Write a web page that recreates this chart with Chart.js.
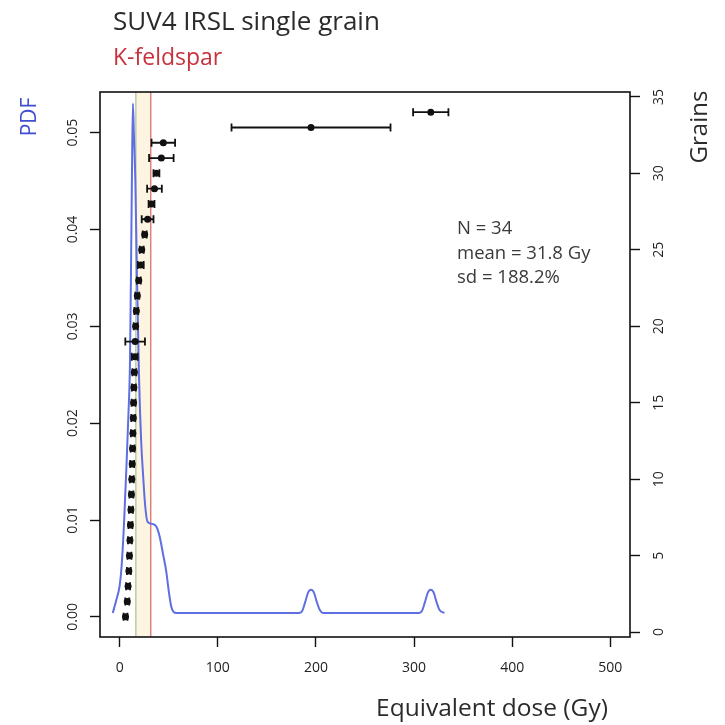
<!DOCTYPE html>
<html>
<head>
<meta charset="utf-8">
<script src="https://cdn.jsdelivr.net/npm/chart.js@4.4.1/dist/chart.umd.min.js"></script>
<style>
  html, body { margin: 0; padding: 0; background: #fff; }
</style>
</head>
<body>
<canvas id="kde" width="725" height="725"></canvas>
<script>
// equivalent dose of each grain (Gy), sorted, with its error
const grainDose  = [6, 7.8, 8.6, 9.4, 10, 10.5, 11, 11.5, 12, 12.4, 12.8, 13.2, 13.5, 13.9, 14.2, 14.5,
                    15, 15.4, 15.8, 16.3, 17, 18, 19.5, 21.5, 22.5, 25.5, 28.5, 32.5, 35.5, 37.5,
                    42.5, 44.5, 195, 317];
const grainError = [2, 2, 2, 2, 2, 2, 2, 2, 2, 2, 2, 2, 2, 2, 2, 2,
                    2, 3, 10, 2, 2, 2, 2, 3, 2, 2, 6, 3, 7.5, 3,
                    12.5, 12, 81, 18];

// density curve
const pdfDose  = [-7, -3.5, 0, 2, 4.5, 7, 9, 10.5, 11.5, 12.5, 13.5, 14.5, 16, 17.7, 19.7, 22, 24, 26,
                  28.5, 33, 37.5, 41, 44, 47.5, 50, 52.5, 55, 58, 100, 150, 183,
                  186, 189, 192, 195, 198, 201, 204, 207, 250, 305,
                  308, 311, 314, 317, 320, 323, 326, 331];
const pdfValue = [0.0004, 0.0017, 0.0032, 0.0052, 0.0097, 0.0157, 0.021, 0.026, 0.035, 0.045, 0.053, 0.05,
                  0.045, 0.035, 0.025, 0.018, 0.0145, 0.0115, 0.0098, 0.0096, 0.0093, 0.0082, 0.0066,
                  0.0047, 0.0027, 0.0011, 0.0005, 0.0004, 0.0004, 0.0004, 0.0004,
                  0.0006, 0.0015, 0.0025, 0.0028, 0.0025, 0.0015, 0.0007, 0.0004, 0.0004, 0.0004,
                  0.0006, 0.0015, 0.0025, 0.0028, 0.0025, 0.0015, 0.0007, 0.0004];

const meanDose = 31.8;
const medianDose = 16.5;
const statLines = ['N = 34', 'mean = 31.8 Gy', 'sd = 188.2%'];

const FONT = '"Open Sans", "DejaVu Sans", sans-serif';

const grainPoints = grainDose.map((d, i) => ({ x: d, y: i + 1 }));
const pdfPoints = pdfDose.map((d, i) => ({ x: d, y: pdfValue[i] }));

function fixSize(size) {
    return function (scale) {
        if (scale.isHorizontal()) {
            scale.height = size;
        } else {
            scale.width = size;
        }
        scale.paddingTop = 0;
        scale.paddingBottom = 0;
        scale.paddingLeft = 0;
        scale.paddingRight = 0;
    };
}

const markers = {
    id: 'markers',
    beforeDatasetsDraw(chart) {
        const { ctx, chartArea: a, scales: { x } } = chart;
        ctx.save();
        // faint band between median and mean
        ctx.fillStyle = 'rgba(250, 225, 170, 0.35)';
        ctx.fillRect(x.getPixelForValue(medianDose), a.top, x.getPixelForValue(meanDose) - x.getPixelForValue(medianDose), a.bottom - a.top);
        ctx.lineWidth = 1.5;
        ctx.strokeStyle = 'rgba(170, 190, 150, 0.8)';
        ctx.beginPath();
        ctx.moveTo(x.getPixelForValue(medianDose), a.top);
        ctx.lineTo(x.getPixelForValue(medianDose), a.bottom);
        ctx.stroke();
        ctx.lineWidth = 1;
        ctx.strokeStyle = '#d04848';
        ctx.beginPath();
        ctx.moveTo(x.getPixelForValue(meanDose), a.top);
        ctx.lineTo(x.getPixelForValue(meanDose), a.bottom);
        ctx.stroke();
        ctx.restore();
    },
    afterDatasetsDraw(chart) {
        const { ctx, scales: { x, y2 } } = chart;
        ctx.save();
        ctx.strokeStyle = '#111';
        ctx.lineWidth = 1.8;
        grainDose.forEach((d, i) => {
            const py = y2.getPixelForValue(i + 1);
            const x1 = x.getPixelForValue(d - grainError[i]);
            const x2 = x.getPixelForValue(d + grainError[i]);
            ctx.beginPath();
            ctx.moveTo(x1, py);
            ctx.lineTo(x2, py);
            ctx.moveTo(x1, py - 4);
            ctx.lineTo(x1, py + 4);
            ctx.moveTo(x2, py - 4);
            ctx.lineTo(x2, py + 4);
            ctx.stroke();
        });
        ctx.restore();
    },
    afterDraw(chart) {
        const { ctx, chartArea: a } = chart;
        ctx.save();
        // plot frame
        ctx.strokeStyle = '#111';
        ctx.lineWidth = 1.6;
        ctx.strokeRect(a.left, a.top, a.right - a.left, a.bottom - a.top);

        ctx.textBaseline = 'middle';
        ctx.textAlign = 'left';
        ctx.fillStyle = '#2b2b2b';
        ctx.font = '26px ' + FONT;
        ctx.fillText('SUV4 IRSL single grain', 113, 23);
        ctx.fillStyle = '#c8323c';
        ctx.font = '23px ' + FONT;
        ctx.fillText('K-feldspar', 113, 58);

        ctx.fillStyle = '#3a3a3a';
        ctx.font = '18.5px ' + FONT;
        statLines.forEach((s, i) => ctx.fillText(s, 457, 229 + i * 24.5));

        ctx.fillStyle = '#2b2b2b';
        ctx.font = '24.5px ' + FONT;
        ctx.textAlign = 'center';
        ctx.fillText('Equivalent dose (Gy)', 492, 709);

        ctx.save();
        ctx.translate(30, 117);
        ctx.rotate(-Math.PI / 2);
        ctx.fillStyle = '#3f4fd0';
        ctx.font = '21px ' + FONT;
        ctx.fillText('PDF', 0, 0);
        ctx.restore();

        ctx.save();
        ctx.translate(700, 127);
        ctx.rotate(-Math.PI / 2);
        ctx.fillStyle = '#2b2b2b';
        ctx.font = '24px ' + FONT;
        ctx.fillText('Grains', 0, 0);
        ctx.restore();

        ctx.restore();
    }
};

const tickFont = { family: FONT, size: 14 };

new Chart(document.getElementById('kde'), {
    data: {
        datasets: [{
            type: 'scatter',
            data: grainPoints,
            xAxisID: 'x',
            yAxisID: 'y2',
            pointRadius: 3.5,
            pointHoverRadius: 3.5,
            backgroundColor: '#111',
            borderWidth: 0,
            order: 0
        }, {
            type: 'line',
            data: pdfPoints,
            xAxisID: 'x',
            yAxisID: 'y',
            borderColor: '#5f6fe2',
            borderWidth: 2,
            pointRadius: 0,
            fill: false,
            cubicInterpolationMode: 'monotone',
            order: 1
        }]
    },
    options: {
        responsive: false,
        animation: false,
        events: [],
        layout: { padding: { top: 92, left: 0, right: 0, bottom: 0 } },
        plugins: {
            legend: { display: false },
            title: { display: false },
            tooltip: { enabled: false }
        },
        scales: {
            x: {
                type: 'linear',
                position: 'bottom',
                min: -20,
                max: 520,
                afterFit: fixSize(88),
                border: { display: false },
                grid: { drawOnChartArea: false, tickLength: 10, tickColor: '#111', tickWidth: 1.4 },
                ticks: { stepSize: 100, includeBounds: false, padding: 13, color: '#222', font: tickFont, maxRotation: 0 }
            },
            y: {
                type: 'linear',
                position: 'left',
                min: -0.00208,
                max: 0.0542,
                afterFit: fixSize(100),
                border: { display: false },
                grid: { drawOnChartArea: false, tickLength: 10, tickColor: '#111', tickWidth: 1.4 },
                ticks: {
                    stepSize: 0.01, includeBounds: false, minRotation: 90, maxRotation: 90,
                    crossAlign: 'center', padding: 3, color: '#222', font: tickFont,
                    callback: v => v.toFixed(2)
                }
            },
            y2: {
                type: 'linear',
                position: 'right',
                min: -0.32,
                max: 35.32,
                afterFit: fixSize(95),
                border: { display: false },
                grid: { drawOnChartArea: false, tickLength: 10, tickColor: '#111', tickWidth: 1.4 },
                ticks: {
                    stepSize: 5, includeBounds: false, minRotation: 90, maxRotation: 90,
                    crossAlign: 'center', padding: 11, color: '#222', font: tickFont
                }
            }
        }
    },
    plugins: [markers]
});
</script>
</body>
</html>
